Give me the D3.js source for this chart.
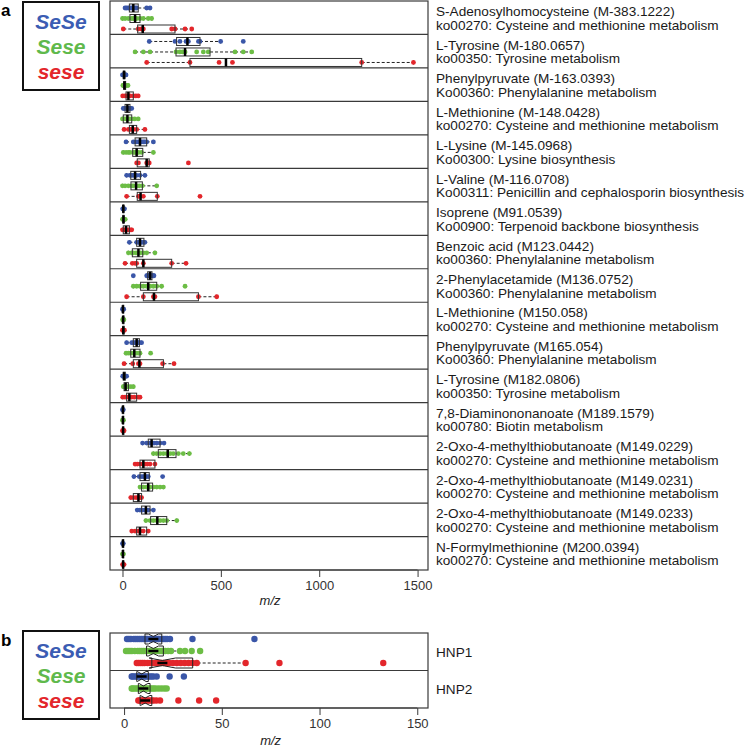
<!DOCTYPE html>
<html><head><meta charset="utf-8">
<script src="https://cdn.jsdelivr.net/npm/d3@7"></script>
<style>body{margin:0;background:#fff}svg{display:block}text{font-family:"Liberation Sans",Arial,sans-serif}</style>
</head><body><div id="chart"></div>
<script>
// ---------- DATA ----------
const groups = ["SeSe", "Sese", "sese"];
const groupColors = ["#3a56a8", "#6cbd45", "#e3262b"];
const legendColors = ["#3b5cb3", "#5fb94c", "#e3262b"];

const compounds = [
  "S-Adenosylhomocysteine (M-383.1222)", "L-Tyrosine (M-180.0657)", "Phenylpyruvate (M-163.0393)",
  "L-Methionine (M-148.0428)", "L-Lysine (M-145.0968)", "L-Valine (M-116.0708)", "Isoprene (M91.0539)",
  "Benzoic acid (M123.0442)", "2-Phenylacetamide (M136.0752)", "L-Methionine (M150.058)",
  "Phenylpyruvate (M165.054)", "L-Tyrosine (M182.0806)", "7,8-Diaminononanoate (M189.1579)",
  "2-Oxo-4-methylthiobutanoate (M149.0229)", "2-Oxo-4-methylthiobutanoate (M149.0231)",
  "2-Oxo-4-methylthiobutanoate (M149.0233)", "N-Formylmethionine (M200.0394)"
];
const pathways = [
  "ko00270: Cysteine and methionine metabolism", "ko00350: Tyrosine metabolism", "Ko00360: Phenylalanine metabolism",
  "ko00270: Cysteine and methionine metabolism", "Ko00300: Lysine biosynthesis", "Ko00311: Penicillin and cephalosporin biosynthesis",
  "Ko00900: Terpenoid backbone biosynthesis", "ko00360: Phenylalanine metabolism", "Ko00360: Phenylalanine metabolism",
  "ko00270: Cysteine and methionine metabolism", "Ko00360: Phenylalanine metabolism", "ko00350: Tyrosine metabolism",
  "ko00780: Biotin metabolism", "ko00270: Cysteine and methionine metabolism", "ko00270: Cysteine and methionine metabolism",
  "ko00270: Cysteine and methionine metabolism", "ko00270: Cysteine and methionine metabolism"
];

// box stats per row: [whiskerLow, Q1, median, Q3, whiskerHigh]
const boxSeSe = [
  [13,35,55,80,140],[136,275,330,394,499],[0,4,8,12,18],[4,13,25,38,47],[18,64,89,123,157],
  [21,42,64,92,114],[1,2,4,6,10],[35,72,89,109,114],[123,128,140,150,160],[0,1,2,4,6],
  [21,55,72,86,97],[1,4,8,14,21],[0,1,2,3,4],[102,131,148,191,211],[58,89,114,136,136],
  [75,97,119,140,157],[0,1,2,3,4]
];
const boxSese = [
  [0,38,64,89,150],[64,272,318,445,657],[2,6,10,16,28],[0,4,25,47,80],[4,52,72,103,157],
  [0,43,69,101,174],[0,2,5,8,14],[30,50,81,103,165],[55,92,131,174,199],[1,2,3,5,7],
  [18,42,60,89,89],[4,8,16,30,55],[0,1,2,3,5],[157,182,230,272,340],[89,97,131,153,208],
  [119,143,177,225,276],[0,1,2,3,5]
];
const boxsese = [
  [4,77,103,267,352],[123,343,526,1216,1479],[1,18,30,55,80],[8,35,52,72,114],[72,75,123,136,136],
  [21,75,92,177,177],[0,4,18,35,47],[13,72,106,250,323],[21,106,160,386,479],[0,2,4,8,10],
  [8,55,86,208,262],[1,21,35,72,89],[0,1,3,5,8],[64,89,106,165,165],[42,55,81,97,97],
  [47,72,89,123,131],[0,1,3,5,8]
];
// observed points
const ptsSeSe = [
  [13,21,30,38,47,55,64,72,123,140],[136,267,292,323,335,386,394,499,614],[0,4,6,8,10,12,15,18],
  [4,10,18,25,32,38,47],[18,55,69,81,97,106,114,123,157],[21,38,47,55,64,72,89,114],[1,3,5,8,10],
  [35,72,81,89,97,106,114],[55,123,128,134,140,145,150,157,160],[0,2,4,6],[21,47,55,64,72,81,86,97],
  [1,4,8,12,16,21],[0,2,4],[102,123,140,148,160,174,191,211],[58,85,97,106,114,123,131,204],
  [75,89,102,114,123,131,157],[0,2,4]
];
const ptsSese = [
  [0,13,30,47,55,64,72,89,106,131,148],[64,106,140,272,292,306,318,377,411,436,572,614,657],
  [2,5,8,10,13,16,22,28],[0,8,18,25,35,47,62,80],[4,18,30,38,55,64,72,81,97,157],
  [0,13,30,47,55,72,85,101,174],[0,3,6,9,14],[30,47,55,69,81,92,106,123,165],
  [55,72,89,106,123,140,157,174,199,318],[1,3,5,7],[18,30,42,55,69,81,89,143],[4,8,14,20,30,42,55],
  [0,2,5],[157,174,191,208,225,242,258,284,309,340],[89,106,123,131,140,157,174,191,208],
  [119,140,157,174,191,208,225,276],[0,2,5]
];
const ptssese = [
  [4,80,97,106,250,267,318,352],[123,343,491,559,1216,1479],[1,13,21,30,38,55,68,80],
  [8,30,42,55,72,114],[72,81,123,131,136,335],[21,81,89,106,177,394],[0,6,14,22,30,40,47],
  [13,50,64,72,106,250,323],[21,106,157,165,386,479],[0,3,6,10],[8,52,81,89,204,262],
  [1,13,30,45,60,80,89],[0,3,6,8],[64,75,89,102,114,126,140,165],[42,55,69,81,89,97],
  [47,64,81,89,106,131],[0,4,8]
];
const ticksA = [0, 500, 1000, 1500];

// Panel b
const peptides = ["HNP1", "HNP2"];
const boxB_SeSe = [[1.4,10.7,15.0,19.3,23.5],[3.9,6.5,9.0,12.4,16.7]];
const boxB_Sese = [[1,11.5,15,20.1,31.2],[3.9,7.3,9.9,13.3,21.8]];
const boxB_sese = [[6.5,14.2,19.6,35.1,62.2],[7.3,8.2,10.8,14.2,18.4]];
const ptsB_SeSe = [
  [1.5,2.5,3.5,5,6,7,8,9,10,11,11.5,12,13,13.5,14,15,15.5,16,17,17.5,18,19,20,21,22,23.5,35,66.7],
  [3.9,4.5,5.5,6.5,7,8,8.5,9,10,11,12,13,14,15,16.7,23.3,30.6]
];
const ptsB_Sese = [
  [1,2,3,4,5.5,7,8,9,10,11,12,13,14,15,16,17,18,19,20,21,22.5,24,28.6,31.2,34.6,38.9],
  [3.9,4.5,5.5,6.5,7.5,8.5,9.5,10,11,12,13,14,15,16,17.5,19,20.5,21.8]
];
const ptsB_sese = [
  [6.5,7.5,8.5,9.5,10.5,12,13.5,14.5,16,17.5,19,20,21.5,23,25,27,29,31,33,35,37.2,62.2,79.5,132.6],
  [7.3,8,8.5,9.5,10,11,12,13,14,15,16.5,18.4,27.8,38.4,47.1]
];
const ticksB = [0, 50, 100, 150];

// ---------- DRAW ----------
const svg = d3.select("#chart").append("svg").attr("width", 752).attr("height", 748);
const frameColor = "#3a3a3a";

function legend(y0) {
  const g = svg.append("g");
  g.append("rect").attr("x", 23).attr("y", y0).attr("width", 76).attr("height", 88)
    .attr("fill", "none").attr("stroke", "#111").attr("stroke-width", 2);
  const ly = d3.scalePoint().domain(groups).range([y0 + 27, y0 + 77]);
  g.selectAll("text").data(groups).join("text")
    .attr("x", 61).attr("y", d => ly(d)).attr("text-anchor", "middle")
    .attr("font-size", 21).attr("font-style", "italic").attr("font-weight", "bold")
    .attr("fill", (d, i) => legendColors[i]).text(d => d);
}

function panel(opts) {
  const { x, rows, top, bottom, boxes, pts, labels1, labels2, ticks, tickY, notch, boxH, r, offs } = opts;
  const yRow = d3.scaleBand().domain(d3.range(rows)).range([top, bottom]);
  const yG = d3.scalePoint().domain(groups).range(offs);
  const g = svg.append("g");
  // frame & separators
  g.append("rect").attr("x", x.range()[0]).attr("y", top).attr("width", x.range()[1] - x.range()[0])
    .attr("height", bottom - top).attr("fill", "none").attr("stroke", frameColor).attr("stroke-width", 1.2);
  g.selectAll("line.sep").data(d3.range(1, rows)).join("line").attr("class", "sep")
    .attr("x1", x.range()[0]).attr("x2", x.range()[1])
    .attr("y1", d => yRow(d)).attr("y2", d => yRow(d))
    .attr("stroke", frameColor).attr("stroke-width", 1.2);

  for (let i = 0; i < rows; i++) {
    groups.forEach((grp, gi) => {
      const cy = yRow(i) + yG(grp);
      const [lo, q1, med, q3, hi] = boxes[gi][i];
      const col = groupColors[gi];
      // whiskers
      g.append("line").attr("x1", x(lo)).attr("x2", x(q1)).attr("y1", cy).attr("y2", cy)
        .attr("stroke", "#222").attr("stroke-dasharray", "3,2").attr("stroke-width", 1);
      g.append("line").attr("x1", x(q3)).attr("x2", x(hi)).attr("y1", cy).attr("y2", cy)
        .attr("stroke", "#222").attr("stroke-dasharray", "3,2").attr("stroke-width", 1);
      [lo, hi].forEach(v => g.append("line").attr("x1", x(v)).attr("x2", x(v))
        .attr("y1", cy - boxH / 4).attr("y2", cy + boxH / 4).attr("stroke", "#222").attr("stroke-width", 1));
      // points
      g.selectAll(null).data(pts[gi][i]).join("circle")
        .attr("cx", d => x(d)).attr("cy", cy).attr("r", r).attr("fill", col);
      // box
      if (notch) {
        const n = pts[gi][i].length;
        const nw = 1.58 * (q3 - q1) / Math.sqrt(n);
        const a = med - nw, b = med + nw, t = cy - boxH / 2, bt = cy + boxH / 2, ins = boxH / 4;
        const p = d3.path();
        p.moveTo(x(q1), t); p.lineTo(x(a), t); p.lineTo(x(med), t + ins); p.lineTo(x(b), t); p.lineTo(x(q3), t);
        p.lineTo(x(q3), bt); p.lineTo(x(b), bt); p.lineTo(x(med), bt - ins); p.lineTo(x(a), bt); p.lineTo(x(q1), bt); p.closePath();
        g.append("path").attr("d", p.toString()).attr("fill", "none").attr("stroke", "#222").attr("stroke-width", 1);
        g.append("line").attr("x1", x(med) - 5).attr("x2", x(med) + 5).attr("y1", cy).attr("y2", cy)
          .attr("stroke", "#000").attr("stroke-width", 2.5);
      } else {
        g.append("rect").attr("x", x(q1)).attr("y", cy - boxH / 2).attr("width", Math.max(1, x(q3) - x(q1)))
          .attr("height", boxH).attr("fill", "none").attr("stroke", "#333").attr("stroke-width", 1);
        g.append("line").attr("x1", x(med)).attr("x2", x(med)).attr("y1", cy - boxH / 2).attr("y2", cy + boxH / 2)
          .attr("stroke", "#000").attr("stroke-width", 2.5);
      }
    });
    // right labels
    const c = yRow(i) + yRow.bandwidth() / 2;
    if (labels2) {
      g.append("text").attr("x", 436).attr("y", c - 1.5).attr("font-size", 13.6).attr("fill", "#1a1a1a").text(labels1[i]);
      g.append("text").attr("x", 436).attr("y", c + 12).attr("font-size", 13.6).attr("fill", "#1a1a1a").text(labels2[i]);
    } else {
      g.append("text").attr("x", 436).attr("y", c + 5).attr("font-size", 13.6).attr("fill", "#1a1a1a").text(labels1[i]);
    }
  }
  // axis
  const ax = svg.append("g").attr("transform", `translate(0,${bottom})`)
    .call(d3.axisBottom(x).tickValues(ticks).tickSize(7).tickPadding(4).tickFormat(d3.format("d")));
  ax.select(".domain").attr("stroke", frameColor).attr("d", `M${x(ticks[0])},0H${x(ticks[ticks.length-1])}`);
  ax.selectAll(".tick line").attr("stroke", frameColor);
  ax.selectAll(".tick text").attr("font-size", 13).attr("fill", "#333").attr("font-family", "Liberation Sans, Arial, sans-serif");
  svg.append("text").attr("x", (x(ticks[0]) + x(ticks[ticks.length - 1])) / 2).attr("y", tickY)
    .attr("text-anchor", "middle").attr("font-size", 13).attr("font-style", "italic").attr("fill", "#222").text("m/z");
}

// panel labels
svg.append("text").attr("x", 1).attr("y", 16).attr("font-size", 17).attr("font-weight", "bold").text("a");
svg.append("text").attr("x", 1).attr("y", 646).attr("font-size", 17).attr("font-weight", "bold").text("b");
legend(2);
legend(631);

const xA = d3.scaleLinear().domain([-63.5, 1553]).range([110, 428]);
panel({ x: xA, rows: 17, top: 1, bottom: 570, boxes: [boxSeSe, boxSese, boxsese],
  pts: [ptsSeSe, ptsSese, ptssese], labels1: compounds, labels2: pathways, ticks: ticksA,
  tickY: 605, notch: false, boxH: 8, r: 2.4, offs: [7, 28] });

const xB = d3.scaleLinear().domain([-7.2, 155.5]).range([110, 428]);
panel({ x: xB, rows: 2, top: 633, bottom: 708, boxes: [boxB_SeSe, boxB_Sese, boxB_sese],
  pts: [ptsB_SeSe, ptsB_Sese, ptsB_sese], labels1: peptides, labels2: null, ticks: ticksB,
  tickY: 745, notch: true, boxH: 10, r: 3.2, offs: [6, 30] });
</script>
</body></html>
